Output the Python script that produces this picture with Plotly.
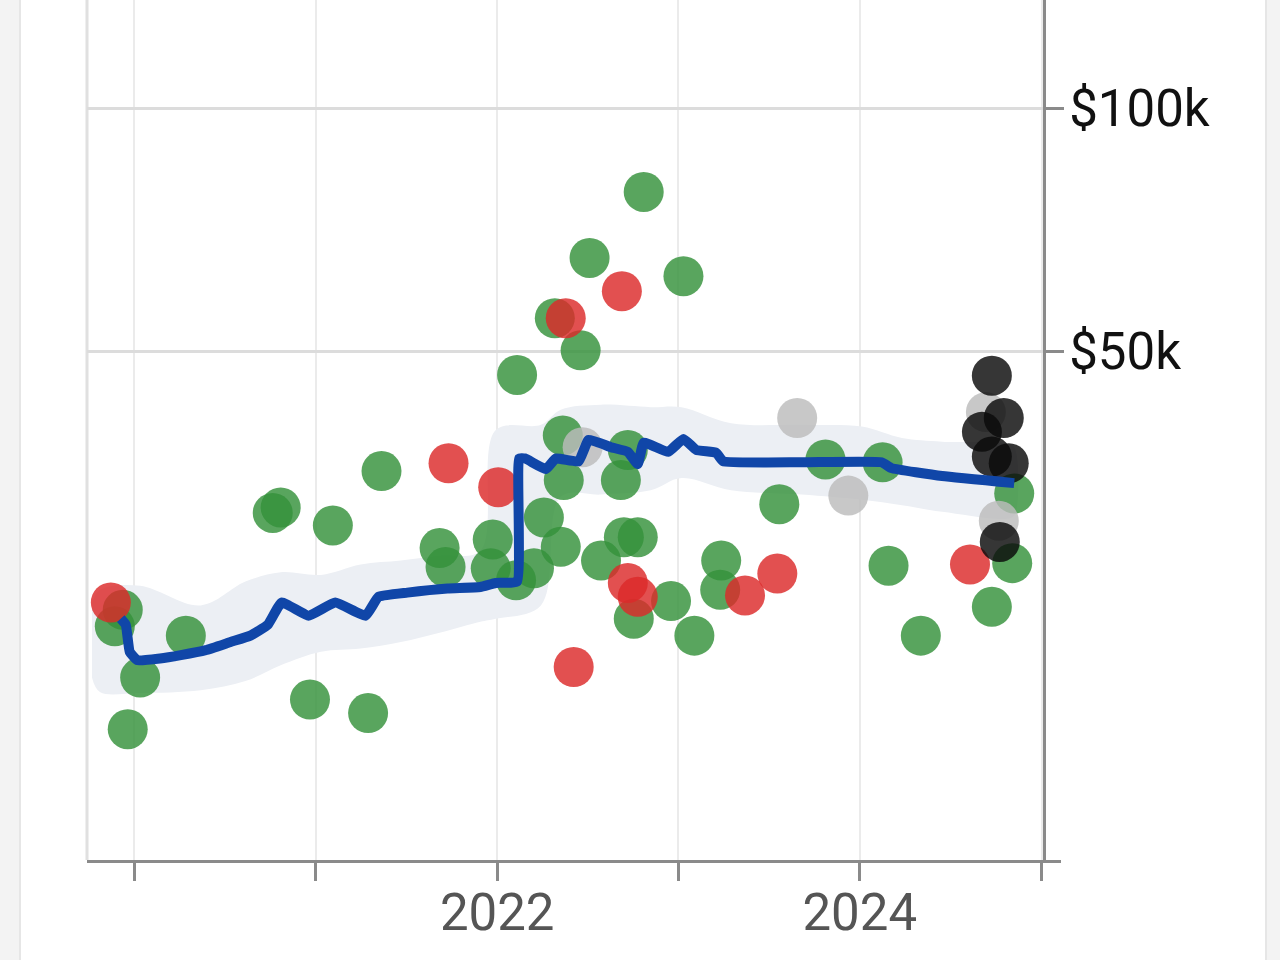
import math
import plotly.graph_objects as go

# ---------------- data ----------------
green_dates = ["2019-12-09", "2019-11-23", "2020-01-13", "2019-12-19", "2020-04-14", "2020-10-06",
               "2020-10-22", "2020-12-20", "2021-02-04", "2021-04-16", "2021-05-13", "2021-09-07",
               "2021-09-19", "2021-12-23", "2021-12-19", "2022-02-08", "2022-02-10", "2022-03-16",
               "2022-04-05", "2022-05-09", "2022-04-27", "2022-06-18", "2022-07-06", "2022-05-13",
               "2022-05-15", "2022-07-29", "2022-09-07", "2022-09-21", "2022-09-13", "2022-10-11",
               "2022-10-03", "2022-10-23", "2022-12-17", "2023-01-11", "2023-02-02", "2023-03-28",
               "2023-03-26", "2023-07-23", "2023-10-24", "2024-02-16", "2024-02-28", "2024-05-03",
               "2024-11-07", "2024-11-03", "2024-09-23"]
green_prices = [23900, 22800, 19700, 17000, 22200, 31500,
                32000, 18500, 30400, 17800, 35500, 28500,
                27000, 29200, 26900, 26000, 46700, 26900,
                31100, 28600, 54900, 50100, 65200, 39300,
                34600, 27500, 34600, 37700, 29400, 29400,
                23300, 78700, 24500, 61900, 22200, 27500,
                25300, 32300, 36700, 36400, 27100, 22200,
                33300, 27300, 24100]

red_dates = ["2019-11-15", "2021-09-25", "2022-01-03", "2022-05-19", "2022-09-09", "2022-06-04",
             "2022-09-21", "2022-10-11", "2023-05-15", "2023-07-19", "2024-08-10"]
red_prices = [24400, 36300, 33900, 54900, 59300, 20300, 25800, 24800, 24900, 26500, 27200]

gray_dates = ["2022-06-22", "2023-08-28", "2023-12-09", "2024-09-11", "2024-10-07"]
gray_prices = [38000, 41300, 33100, 42000, 30800]

black_dates = ["2024-09-23", "2024-10-17", "2024-09-03", "2024-09-23", "2024-10-27", "2024-10-09"]
black_prices = [46600, 41300, 39700, 37000, 36300, 29000]

trend_dates = ["2019-12-05", "2019-12-15", "2019-12-23", "2020-01-07", "2020-02-22", "2020-04-04",
               "2020-05-24", "2020-07-13", "2020-08-22", "2020-09-26", "2020-10-24", "2020-12-17",
               "2021-02-09", "2021-04-11", "2021-05-07", "2021-07-04", "2021-09-23", "2021-11-28",
               "2021-12-29", "2022-02-10", "2022-02-14", "2022-02-26", "2022-04-09", "2022-04-29",
               "2022-06-14", "2022-07-04", "2022-08-18", "2022-09-21", "2022-10-11", "2022-10-23",
               "2022-12-11", "2023-01-11", "2023-02-06", "2023-03-18", "2023-04-01", "2023-09-06",
               "2024-02-14", "2024-03-05", "2024-06-15", "2024-11-07"]
trend_prices = [23300, 22900, 21200, 20700, 20800, 21000,
                21300, 21800, 22200, 22900, 24400, 23500,
                24400, 23500, 24800, 25100, 25400, 25500,
                25800, 25900, 36800, 36800, 35700, 36800,
                36500, 38800, 38000, 37500, 36200, 38500,
                37500, 38900, 37700, 37400, 36500, 36400,
                36400, 35800, 35000, 34300]

band_dates = ["2019-10-08", "2019-10-24", "2020-01-13", "2020-05-14", "2020-08-12", "2020-10-22",
              "2021-01-11", "2021-04-01", "2021-06-21", "2021-09-09", "2021-11-28", "2021-12-29",
              "2022-03-30", "2022-05-09", "2022-07-29", "2022-11-06", "2023-01-07", "2023-04-17",
              "2023-09-06", "2024-01-05", "2024-03-26", "2024-06-15", "2024-11-03", "2024-11-12"]
band_upper = [24300, 25300, 25600, 24200, 25900, 26600, 26400, 27200, 27500, 27900, 28300, 39900,
              40500, 42300, 42900, 42600, 42600, 40700, 40500, 40300, 39000, 38600, 38200, 37200]
band_lower = [19700, 18900, 18850, 19000, 19500, 20400, 21200, 21400, 21800, 22400, 23100, 23300,
              24200, 33000, 33200, 33600, 34800, 33600, 33200, 32700, 32200, 31600, 31100, 31900]

year_ticks = ["2020-01-01", "2021-01-01", "2022-01-01", "2023-01-01", "2024-01-01", "2025-01-01"]
year_labels = ["", "", "2022", "", "2024", ""]
price_ticks = [50000, 100000]
price_labels = ["$50k", "$100k"]

# ---------------- figure ----------------
fig = go.Figure()

fig.add_trace(go.Scatter(
    x=band_dates + band_dates[::-1], y=band_upper + band_lower[::-1],
    mode="lines", fill="toself", fillcolor="#eceff4",
    line=dict(width=0, shape="spline", smoothing=1.0, color="#eceff4"),
    hoverinfo="skip", showlegend=False))

def dots(xs, ys, color, op=0.82):
    return go.Scatter(x=xs, y=ys, mode="markers", showlegend=False,
                      marker=dict(size=40, color=color, opacity=op, line=dict(width=0)))

fig.add_trace(dots(green_dates, green_prices, "rgb(52,145,58)"))
fig.add_trace(dots(red_dates, red_prices, "rgb(220,42,42)"))
fig.add_trace(dots(gray_dates, gray_prices, "rgb(188,188,188)"))
fig.add_trace(dots(black_dates, black_prices, "rgb(10,10,10)"))

fig.add_trace(go.Scatter(
    x=trend_dates, y=trend_prices, mode="lines", showlegend=False,
    line=dict(color="#1046a8", width=10, shape="spline", smoothing=0.35)))

y_lo, y_hi = 11706, 136080

fig.update_layout(
    width=1280, height=960,
    margin=dict(l=87, r=237, t=0, b=100, pad=0),
    paper_bgcolor="#f3f3f3", plot_bgcolor="white",
    font=dict(family="Roboto", size=51),
    xaxis=dict(type="date", range=["2019-09-28", "2025-01-04"],
               tickmode="array", tickvals=year_ticks, ticktext=year_labels,
               ticks="outside", ticklen=18, tickwidth=3, tickcolor="#8a8a8a",
               showline=True, linecolor="#8a8a8a", linewidth=3,
               showgrid=True, gridcolor="#ebebeb", gridwidth=2, zeroline=False,
               ticklabelstandoff=-12,
               tickfont=dict(family="Roboto", size=51, color="#555555")),
    yaxis=dict(type="log", side="right", range=[math.log10(y_lo), math.log10(y_hi)],
               tickmode="array", tickvals=price_ticks, ticktext=price_labels,
               ticks="outside", ticklen=18, tickwidth=3, tickcolor="#8a8a8a",
               showline=True, linecolor="#8a8a8a", linewidth=3,
               showgrid=True, gridcolor="#dcdcdc", gridwidth=3, zeroline=False,
               ticklabelstandoff=-5,
               tickfont=dict(family="Roboto", size=51, color="#111111")),
    shapes=[
        dict(type="rect", xref="paper", yref="paper", x0=(20 - 87) / 956, x1=(1266 - 87) / 956,
             y0=-0.2, y1=1.1, fillcolor="white", line=dict(width=0), layer="below"),
        dict(type="line", xref="paper", yref="paper", x0=(20 - 87) / 956, x1=(20 - 87) / 956,
             y0=-0.2, y1=1.1, line=dict(color="#e6e6e6", width=2), layer="below"),
        dict(type="line", xref="paper", yref="paper", x0=(1266 - 87) / 956, x1=(1266 - 87) / 956,
             y0=-0.2, y1=1.1, line=dict(color="#e6e6e6", width=2), layer="below"),
        dict(type="line", xref="paper", yref="paper", x0=0, x1=0, y0=0, y1=1,
             line=dict(color="#e0e0e0", width=3), layer="below"),
        dict(type="line", xref="paper", yref="paper", x0=1, x1=1 + 18 / 956, y0=-1.5 / 860, y1=-1.5 / 860,
             line=dict(color="#8a8a8a", width=3), layer="above"),
    ],
)

fig.write_html("out.html")
